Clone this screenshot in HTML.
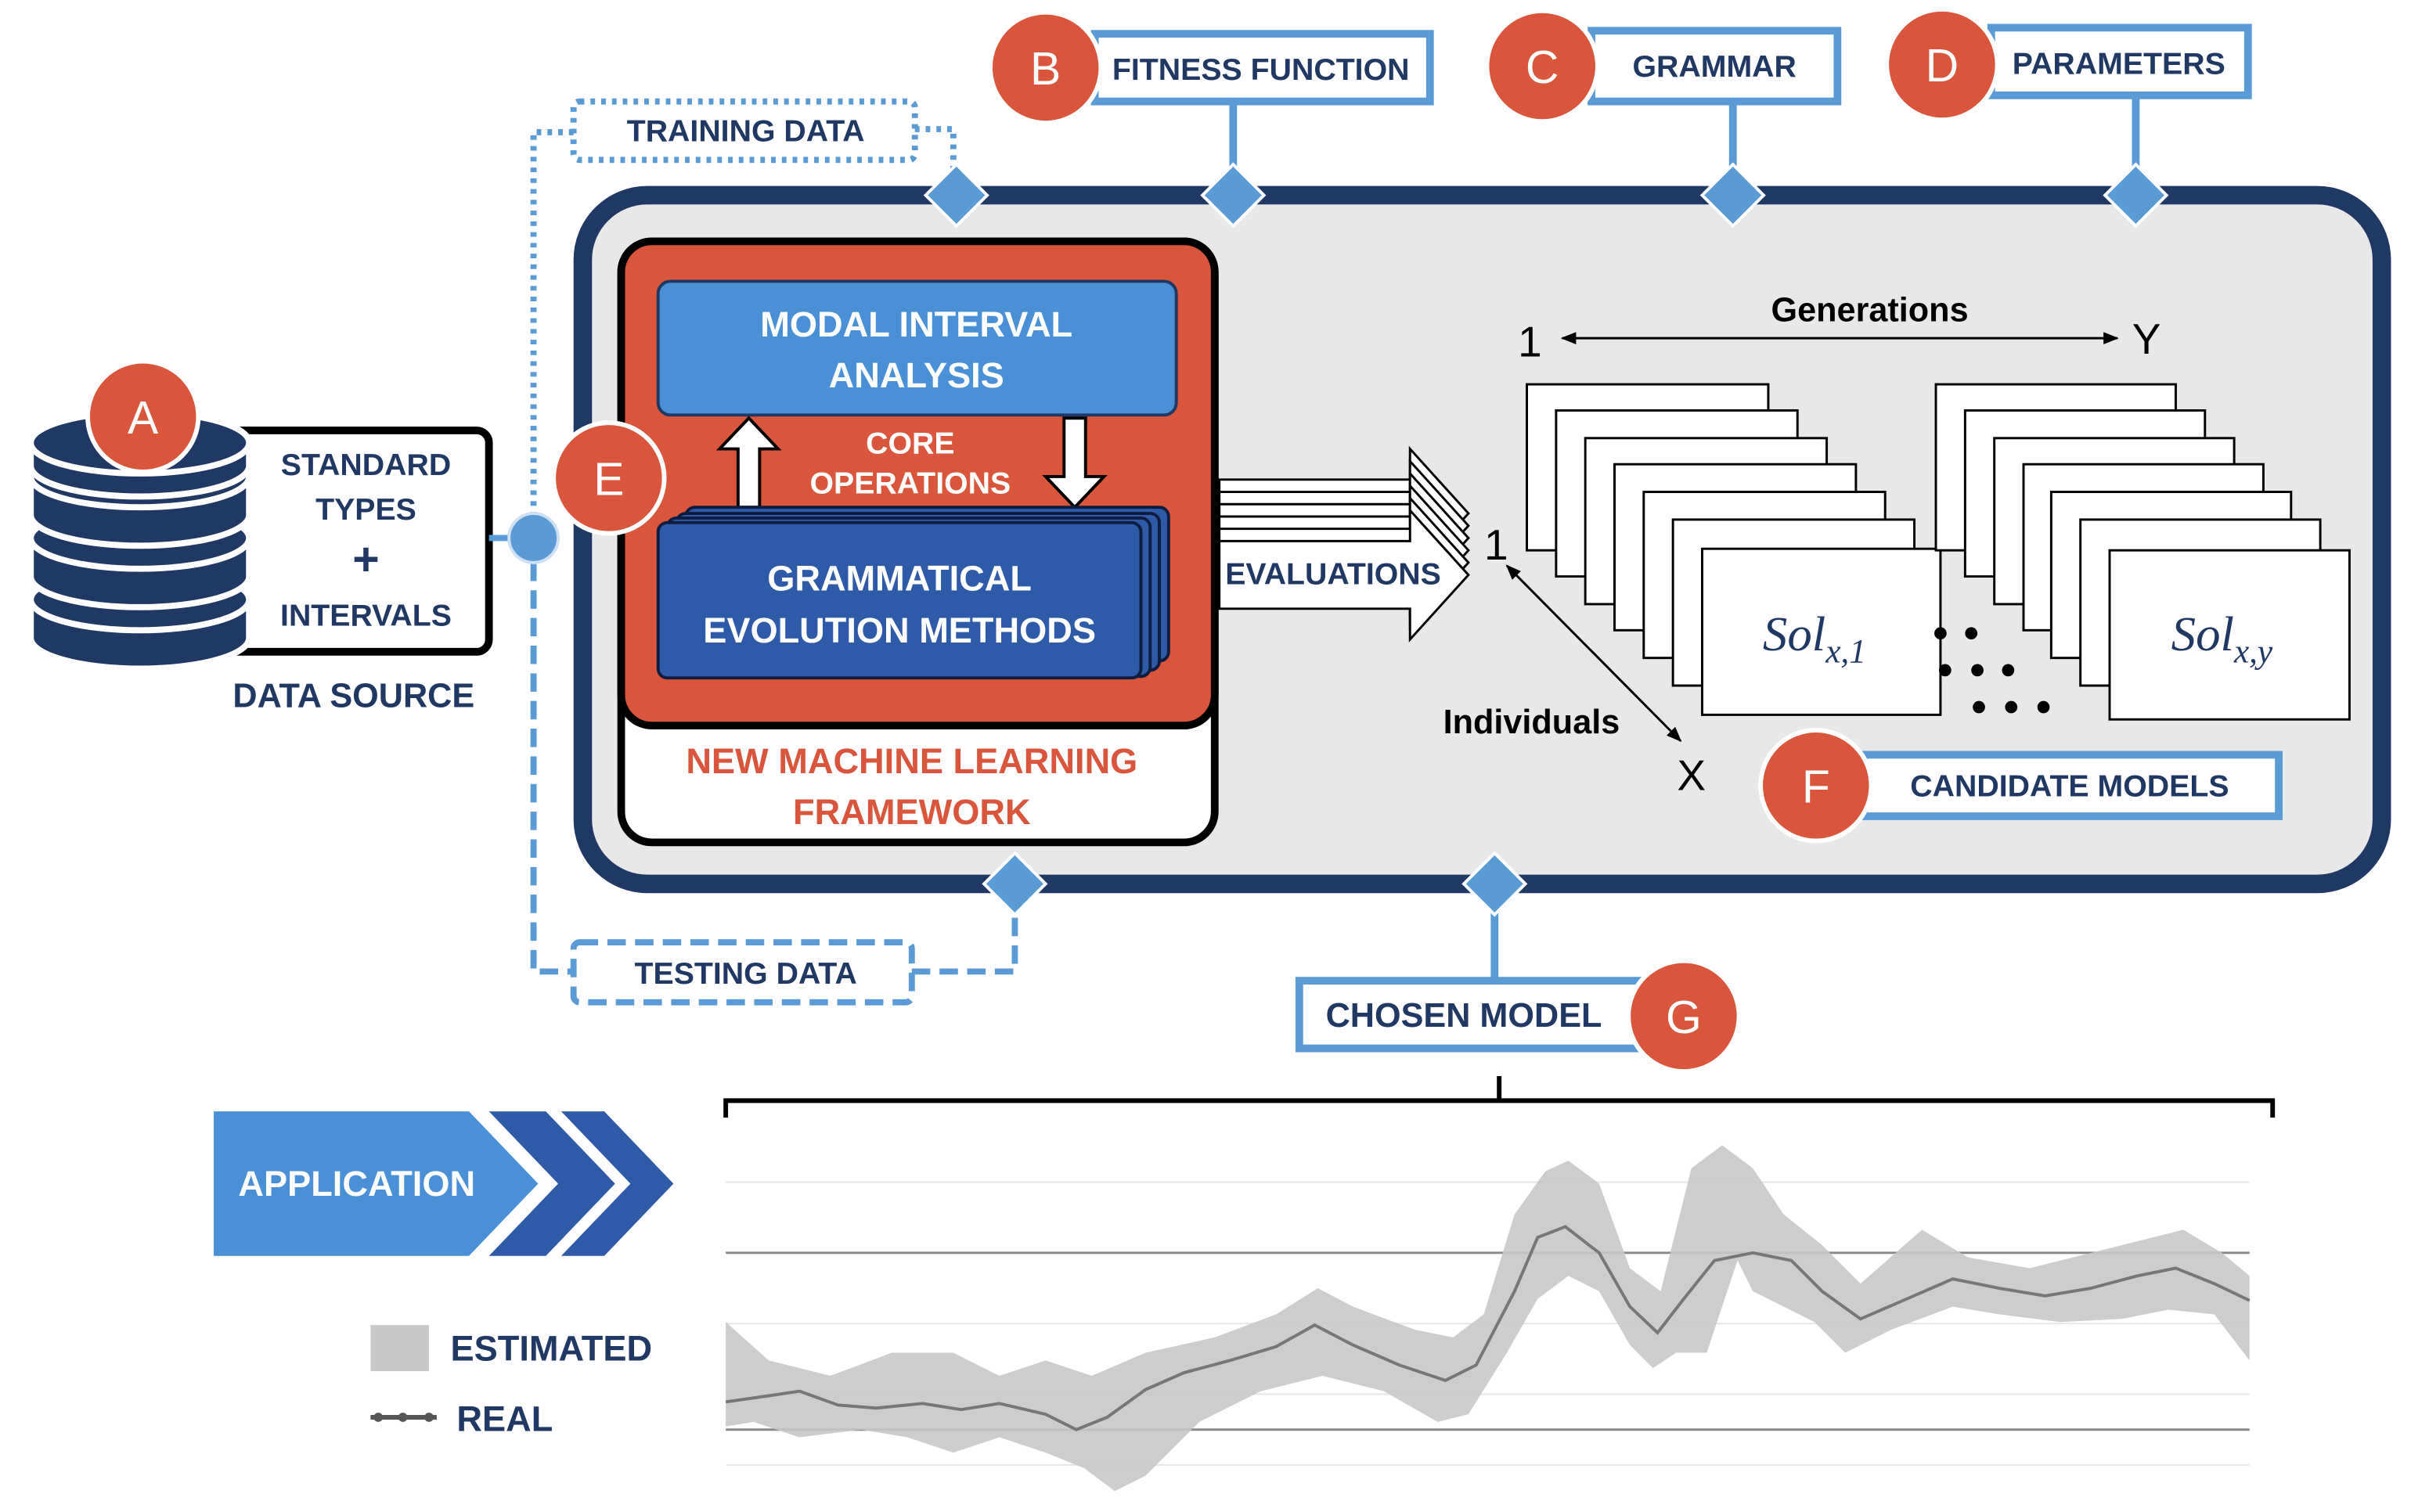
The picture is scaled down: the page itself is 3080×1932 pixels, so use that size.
<!DOCTYPE html>
<html><head><meta charset="utf-8"><style>html,body{margin:0;padding:0;background:#fff}svg{display:block}</style></head>
<body>
<svg width="3080" height="1932" viewBox="0 0 1568 983.6" preserveAspectRatio="none" xmlns="http://www.w3.org/2000/svg" font-family="Liberation Sans, sans-serif">
<defs>
<marker id="ah" markerWidth="10" markerHeight="8" refX="9" refY="4" orient="auto" markerUnits="userSpaceOnUse"><path d="M0,0 L10,4 L0,8 z" fill="#000"/></marker>
<marker id="ahs" markerWidth="10" markerHeight="8" refX="1" refY="4" orient="auto" markerUnits="userSpaceOnUse"><path d="M10,0 L0,4 L10,8 z" fill="#000"/></marker>
</defs>
<rect x="379" y="127" width="1170" height="448" rx="42" fill="#e8e8e8" stroke="#1f3864" stroke-width="12"/>
<g stroke="#5b9bd5" stroke-width="5" fill="none">
<line x1="802" y1="66" x2="802" y2="112"/>
<line x1="1127" y1="66" x2="1127" y2="112"/>
<line x1="1389" y1="62" x2="1389" y2="112"/>
<line x1="972" y1="590" x2="972" y2="638"/>
</g>
<g stroke="#5b9bd5" stroke-width="4" fill="none" stroke-dasharray="3,4">
<polyline points="595,84 620,84 620,112"/>
<polyline points="373,86 347,86 347,334"/>
<rect x="373" y="66" width="222" height="38" rx="4"/>
</g>
<g stroke="#5b9bd5" stroke-width="4" fill="none" stroke-dasharray="12,6">
<polyline points="347,366 347,632 373,632"/>
<polyline points="593,632 660,632 660,592"/>
<rect x="373" y="613" width="220" height="39" rx="4"/>
</g>
<g fill="#5b9bd5" stroke="#fff" stroke-width="2">
<path d="M622,107 L642,127 L622,147 L602,127z"/>
<path d="M802,107 L822,127 L802,147 L782,127z"/>
<path d="M1127,107 L1147,127 L1127,147 L1107,127z"/>
<path d="M1389,107 L1409,127 L1389,147 L1369,127z"/>
<path d="M660,555 L680,575 L660,595 L640,575z"/>
<path d="M972,555 L992,575 L972,595 L952,575z"/>
</g>
<text x="485" y="92" font-size="20" font-weight="bold" fill="#1f3864" text-anchor="middle">TRAINING DATA</text>
<text x="485" y="640" font-size="20" font-weight="bold" fill="#1f3864" text-anchor="middle">TESTING DATA</text>
<g fill="#fff" stroke="#5b9bd5" stroke-width="5">
<rect x="712" y="22" width="218" height="44"/>
<rect x="1035" y="20" width="160" height="46"/>
<rect x="1295" y="18" width="167" height="44"/>
<rect x="1212" y="491" width="270" height="40"/>
<rect x="845" y="638" width="230" height="44"/>
</g>
<g font-size="20" font-weight="bold" fill="#1f3864" text-anchor="middle">
<text x="820" y="52">FITNESS FUNCTION</text>
<text x="1115" y="50">GRAMMAR</text>
<text x="1378" y="48">PARAMETERS</text>
<text x="1346" y="518">CANDIDATE MODELS</text>
<text x="952" y="668" font-size="22">CHOSEN MODEL</text>
</g>
<g fill="#d9553b" stroke="#fff" stroke-width="3">
<circle cx="680" cy="44" r="36"/><circle cx="1003" cy="43" r="36"/><circle cx="1263" cy="42" r="36"/>
<circle cx="1181" cy="511" r="36"/><circle cx="1095" cy="661" r="36"/>
</g>
<g fill="#fff" font-size="30" text-anchor="middle">
<text x="680" y="55">B</text><text x="1003" y="54">C</text><text x="1263" y="53">D</text>
<text x="1181" y="522">F</text><text x="1095" y="672">G</text>
</g>
<rect x="145" y="280" width="173" height="144" rx="8" fill="#fff" stroke="#000" stroke-width="5"/>
<line x1="318" y1="350" x2="333" y2="350" stroke="#5b9bd5" stroke-width="4"/>
<circle cx="347" cy="350" r="16" fill="#5b9bd5" stroke="#cfe0f3" stroke-width="2"/>
<g fill="#1f3864" stroke="#fff" stroke-width="4">
<path d="M20,390 v25 a71,20 0 0 0 142,0 v-25z"/><ellipse cx="91" cy="390" rx="71" ry="20"/>
<path d="M20,350 v25 a71,20 0 0 0 142,0 v-25z"/><ellipse cx="91" cy="350" rx="71" ry="20"/>
<path d="M20,310 v25 a71,20 0 0 0 142,0 v-25z"/><ellipse cx="91" cy="310" rx="71" ry="20"/>
<path d="M20,288 v15 a71,20 0 0 0 142,0 v-15z"/><ellipse cx="91" cy="288" rx="71" ry="20"/>
</g>
<circle cx="93" cy="271" r="36" fill="#d9553b" stroke="#fff" stroke-width="3"/><text x="93" y="282" fill="#fff" font-size="30" text-anchor="middle">A</text>
<g font-size="20" font-weight="bold" fill="#1f3864" text-anchor="middle">
<text x="238" y="309">STANDARD</text><text x="238" y="338">TYPES</text>
<text x="238" y="374" font-size="30">+</text><text x="238" y="407">INTERVALS</text>
<text x="230" y="460" font-size="22">DATA SOURCE</text>
</g>
<rect x="404" y="157" width="386" height="391" rx="20" fill="#fff" stroke="#000" stroke-width="5"/>
<rect x="404" y="157" width="386" height="315" rx="20" fill="#d9553b" stroke="#000" stroke-width="5"/>
<rect x="428" y="183" width="337" height="87" rx="8" fill="#4a90d6" stroke="#1f3864" stroke-width="2"/>
<g font-size="23" font-weight="bold" fill="#fff" text-anchor="middle">
<text x="596" y="219">MODAL INTERVAL</text><text x="596" y="252">ANALYSIS</text>
</g>
<g font-size="20" font-weight="bold" fill="#fff" text-anchor="middle">
<text x="592" y="295">CORE</text><text x="592" y="321">OPERATIONS</text>
</g>
<path d="M480,330 v-38 h-12 l19,-20 l19,20 h-12 v38z" fill="#fff" stroke="#000" stroke-width="2"/>
<path d="M692,272 v38 h-12 l19,20 l19,-20 h-12 v-38z" fill="#fff" stroke="#000" stroke-width="2"/>
<g fill="#2f5aa8" stroke="#0e1c40" stroke-width="2">
<rect x="446" y="330" width="314" height="100" rx="6"/>
<rect x="440" y="334" width="314" height="102" rx="6"/>
<rect x="434" y="337" width="314" height="103" rx="6"/>
<rect x="428" y="340" width="314" height="101" rx="6"/>
</g>
<g font-size="23" font-weight="bold" fill="#fff" text-anchor="middle">
<text x="585" y="384">GRAMMATICAL</text><text x="585" y="418">EVOLUTION METHODS</text>
</g>
<g font-size="23" font-weight="bold" fill="#d9553b" text-anchor="middle">
<text x="593" y="503">NEW MACHINE LEARNING</text><text x="593" y="536">FRAMEWORK</text>
</g>
<circle cx="396" cy="311" r="36" fill="#d9553b" stroke="#fff" stroke-width="3"/>
<text x="396" y="322" fill="#fff" font-size="30" text-anchor="middle">E</text>
<g fill="#fff" stroke="#000" stroke-width="1.5">
<path d="M793,312 h124 v-20 l38,42 l-38,42 v-20 h-124z"/>
<path d="M793,320 h124 v-20 l38,42 l-38,42 v-20 h-124z"/>
<path d="M793,328 h124 v-20 l38,42 l-38,42 v-20 h-124z"/>
<path d="M793,336 h124 v-20 l38,42 l-38,42 v-20 h-124z"/>
<path d="M793,344 h124 v-20 l38,42 l-38,42 v-20 h-124z"/>
<path d="M793,352 h124 v-20 l38,42 l-38,42 v-20 h-124z"/>
</g>
<text x="867" y="380" font-size="20" font-weight="bold" fill="#1f3864" text-anchor="middle">EVALUATIONS</text>
<text x="1216" y="209" font-size="22" font-weight="bold" text-anchor="middle">Generations</text>
<line x1="1016" y1="220" x2="1377" y2="220" stroke="#000" stroke-width="1.5" marker-start="url(#ahs)" marker-end="url(#ah)"/>
<text x="995" y="232" font-size="28" text-anchor="middle">1</text>
<text x="1396" y="230" font-size="28" text-anchor="middle">Y</text>
<g fill="#fff" stroke="#000" stroke-width="1.5">
<rect x="993" y="250" width="157" height="108"/><rect x="1012" y="267" width="157" height="108"/>
<rect x="1031" y="285" width="157" height="108"/><rect x="1050" y="302" width="157" height="108"/>
<rect x="1069" y="320" width="157" height="108"/><rect x="1088" y="338" width="157" height="108"/>
<rect x="1107" y="357" width="155" height="108"/>
<rect x="1259" y="250" width="156" height="108"/><rect x="1278" y="267" width="156" height="108"/>
<rect x="1297" y="285" width="156" height="108"/><rect x="1316" y="302" width="156" height="108"/>
<rect x="1334" y="320" width="156" height="108"/><rect x="1353" y="338" width="156" height="108"/>
<rect x="1372" y="358" width="156" height="110"/>
</g>
<text x="1180" y="423" font-size="32" font-style="italic" font-family="Liberation Serif, serif" fill="#1f3864" text-anchor="middle">Sol<tspan font-size="22" dy="8">x,1</tspan></text>
<text x="1445" y="423" font-size="32" font-style="italic" font-family="Liberation Serif, serif" fill="#1f3864" text-anchor="middle">Sol<tspan font-size="22" dy="8">x,y</tspan></text>
<g fill="#000">
<circle cx="1262" cy="412" r="4"/><circle cx="1282" cy="412" r="4"/>
<circle cx="1265" cy="436" r="4"/><circle cx="1286" cy="436" r="4"/><circle cx="1306" cy="436" r="4"/>
<circle cx="1287" cy="460" r="4"/><circle cx="1308" cy="460" r="4"/><circle cx="1329" cy="460" r="4"/>
</g>
<text x="973" y="364" font-size="28" text-anchor="middle">1</text>
<line x1="980" y1="368" x2="1093" y2="482" stroke="#000" stroke-width="1.5" marker-start="url(#ahs)" marker-end="url(#ah)"/>
<text x="996" y="477" font-size="22" font-weight="bold" text-anchor="middle">Individuals</text>
<text x="1100" y="514" font-size="28" text-anchor="middle">X</text>
<path d="M472,727 V716 H1478 V727 M975,716 V700" stroke="#000" stroke-width="3" fill="none"/>
<path d="M139,723 H305 L350,770 L305,817 H139z" fill="#4a90d6"/>
<path d="M318,723 H355 L400,770 L355,817 H318 L363,770z" fill="#2f5aa8"/>
<path d="M365,723 H393 L438,770 L393,817 H365 L410,770z" fill="#2f5aa8"/>
<text x="232" y="778" font-size="23" font-weight="bold" fill="#fff" text-anchor="middle">APPLICATION</text>
<rect x="241" y="862" width="38" height="30" fill="#c8c8c8"/>
<text x="293" y="885" font-size="23" font-weight="bold" fill="#1f3864">ESTIMATED</text>
<line x1="241" y1="922" x2="284" y2="922" stroke="#555" stroke-width="3"/>
<circle cx="246" cy="922" r="3" fill="#555"/><circle cx="262" cy="922" r="3" fill="#555"/><circle cx="279" cy="922" r="3" fill="#555"/>
<text x="297" y="931" font-size="23" font-weight="bold" fill="#1f3864">REAL</text>
<g stroke="#e6e6e6" stroke-width="1"><line x1="472" y1="769" x2="1463" y2="769"/><line x1="472" y1="861" x2="1463" y2="861"/><line x1="472" y1="907" x2="1463" y2="907"/><line x1="472" y1="953" x2="1463" y2="953"/></g>
<g stroke="#888" stroke-width="1.5"><line x1="472" y1="815" x2="1463" y2="815"/><line x1="472" y1="930" x2="1463" y2="930"/></g>
<path fill="#c8c8c8" fill-opacity="0.9" d="M472,860 L500,885 L540,895 L580,880 L620,880 L650,895 L680,885 L710,895 L745,880 L790,870 L830,855 L857,838 L880,850 L920,865 L945,870 L965,855 L985,790 L1005,762 L1020,755 L1040,770 L1060,825 L1080,840 L1100,760 L1120,745 L1140,760 L1160,790 L1185,810 L1210,835 L1250,800 L1280,818 L1320,825 L1360,815 L1400,805 L1420,800 L1445,815 L1463,830 L1463,885 L1440,855 L1410,852 L1380,858 L1340,860 L1300,855 L1270,850 L1230,865 L1200,880 L1180,860 L1150,845 L1140,840 L1130,820 L1110,880 L1090,880 L1075,890 L1060,875 L1040,840 L1020,830 L1000,845 L980,880 L955,920 L935,925 L900,905 L860,895 L820,905 L780,925 L745,960 L725,970 L705,955 L680,945 L650,935 L620,945 L590,935 L560,930 L520,935 L490,925 L472,928z"/>
<polyline fill="none" stroke="#777" stroke-width="2" points="472,912 500,908 520,905 545,914 570,916 600,913 625,917 650,913 680,920 700,930 720,922 745,904 770,893 800,885 830,876 855,862 880,875 910,888 940,898 960,888 985,840 1000,805 1018,798 1040,815 1060,850 1078,867 1095,845 1115,820 1140,815 1165,820 1185,840 1210,858 1240,845 1270,832 1300,838 1330,843 1360,838 1390,830 1415,825 1440,835 1463,846"/>
</svg>
</body></html>
